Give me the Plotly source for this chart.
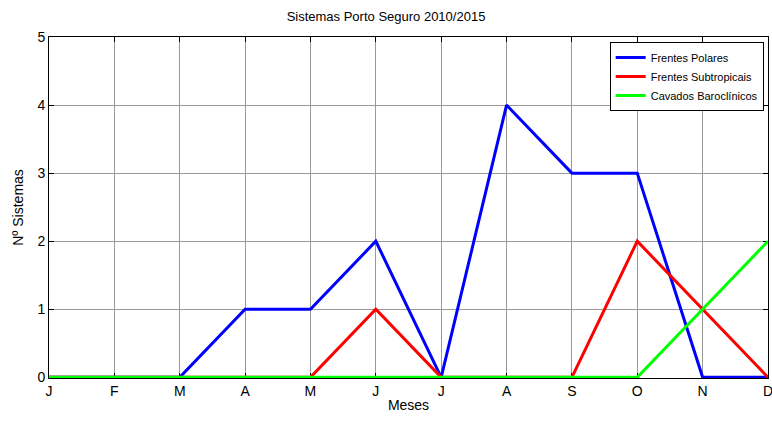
import plotly.graph_objects as go

meses = ["J", "F", "M", "A", "M", "J", "J", "A", "S", "O", "N", "D"]
x = list(range(1, 13))
polares = [0, 0, 0, 1, 1, 2, 0, 4, 3, 3, 0, 0]
subtropicais = [0, 0, 0, 0, 0, 1, 0, 0, 0, 2, 1, 0]
cavados = [0, 0, 0, 0, 0, 0, 0, 0, 0, 0, 1, 2]

fig = go.Figure()
fig.add_trace(go.Scatter(x=x, y=polares, mode="lines", name="Frentes Polares",
                         line=dict(color="#0000ff", width=3)))
fig.add_trace(go.Scatter(x=x, y=subtropicais, mode="lines", name="Frentes Subtropicais",
                         line=dict(color="#ff0000", width=3)))
fig.add_trace(go.Scatter(x=x, y=cavados, mode="lines", name="Cavados Baroclínicos",
                         line=dict(color="#00ff00", width=3)))

fig.update_layout(
    width=772, height=421,
    margin=dict(l=49, r=4, t=37, b=43, autoexpand=False),
    paper_bgcolor="white", plot_bgcolor="white",
    font=dict(family="Liberation Sans, Arial", size=13, color="black"),
    title=dict(text="Sistemas Porto Seguro 2010/2015", x=0.5, xanchor="center",
               y=0.962, yanchor="middle", font=dict(size=13)),
    legend=dict(x=0.994, xanchor="right", y=0.985, yanchor="top",
                bordercolor="black", borderwidth=1, bgcolor="white",
                font=dict(size=11), tracegroupgap=0, itemwidth=30),
    showlegend=True,
)
fig.update_xaxes(range=[1, 12], tickvals=x, ticktext=meses, showgrid=True,
                 gridcolor="#999999", gridwidth=1, showline=True, linecolor="black",
                 mirror="ticks", ticks="inside", ticklen=5, tickcolor="black",
                 zeroline=False, tickfont=dict(size=14), ticklabeloverflow="allow",
                 layer="below traces",
                 title=dict(text="Meses", standoff=2, font=dict(size=14)))
# tiny pad below 0 so the lines lying on zero are not half clipped
fig.update_yaxes(range=[-0.01, 5], tickvals=[0, 1, 2, 3, 4, 5], showgrid=True,
                 gridcolor="#999999", gridwidth=1,
                 showline=True, linecolor="black", mirror="ticks", ticks="inside",
                 ticklen=5, tickcolor="black", zeroline=False, tickfont=dict(size=14),
                 layer="below traces",
                 title=dict(text="Nº Sistemas", standoff=10, font=dict(size=14)))

# drop the default body margin so the figure fills the window exactly
fig.write_html("out.html", config={"displayModeBar": False},
               post_script="document.body.style.margin='0';document.body.style.overflow='hidden';")
